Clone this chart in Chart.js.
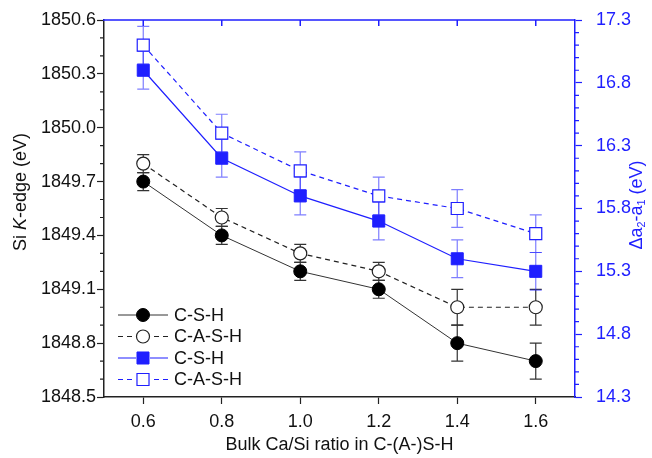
<!DOCTYPE html>
<html>
<head>
<meta charset="utf-8">
<script src="https://cdn.jsdelivr.net/npm/chart.js@4.4.1/dist/chart.umd.min.js"></script>
<style>
    html, body { margin: 0; padding: 0; background: #fff; }
    #wrap { width: 652px; height: 458px; position: relative; }
</style>
</head>
<body>
<div id="wrap"><canvas id="edgeChart"></canvas></div>
<script>
// --- DATA ---
const ratios = [0.6, 0.8, 1.0, 1.2, 1.4, 1.6];
const edgeCSH = [1849.7, 1849.4, 1849.2, 1849.1, 1848.8, 1848.7];
const edgeCSHErr = [0.05, 0.05, 0.05, 0.05, 0.1, 0.1];
const edgeCASH = [1849.8, 1849.5, 1849.3, 1849.2, 1849.0, 1849.0];
const edgeCASHErr = [0.05, 0.05, 0.05, 0.05, 0.1, 0.1];
const splitCSH = [16.9, 16.2, 15.9, 15.7, 15.4, 15.3];
const splitCSHErr = [0.15, 0.15, 0.15, 0.15, 0.15, 0.15];
const splitCASH = [17.1, 16.4, 16.1, 15.9, 15.8, 15.6];
const splitCASHErr = [0.15, 0.15, 0.15, 0.15, 0.15, 0.15];

const xTicks = [0.6, 0.8, 1.0, 1.2, 1.4, 1.6];
const leftTicks = [1848.5, 1848.8, 1849.1, 1849.4, 1849.7, 1850.0, 1850.3, 1850.6];
const rightTicks = [14.3, 14.8, 15.3, 15.8, 16.3, 16.8, 17.3];

const BLUE = '#1f1fff';
const BLUE_ERR = 'rgba(40, 40, 255, 0.6)';
const FONT = "'Liberation Sans', Arial, sans-serif";
const FS = 18;

Chart.defaults.font.family = FONT;
Chart.defaults.font.size = FS;
Chart.defaults.color = '#111';

const toPoints = (ys) => ratios.map((x, i) => ({ x: x, y: ys[i] }));

// keep tick padding from pushing the plot frame around
function fixPad(s) {
    s.paddingTop = 0; s.paddingBottom = 0;
    s.paddingLeft = 0; s.paddingRight = 0;
}

// --- PLUGIN: error bars (drawn under the markers) ---
const errorBars = {
    id: 'errorBars',
    beforeDatasetsDraw(chart) {
        const ctx = chart.ctx;
        chart.data.datasets.forEach((ds, i) => {
            const meta = chart.getDatasetMeta(i);
            const yScale = chart.scales[ds.yAxisID];
            ctx.save();
            ctx.strokeStyle = ds.errColor;
            ctx.lineWidth = 1.2;
            meta.data.forEach((pt, j) => {
                const v = ds.data[j].y, e = ds.errors[j];
                const yTop = yScale.getPixelForValue(v + e);
                const yBot = yScale.getPixelForValue(v - e);
                ctx.beginPath();
                ctx.moveTo(pt.x, yTop); ctx.lineTo(pt.x, yBot);
                ctx.moveTo(pt.x - 6, yTop); ctx.lineTo(pt.x + 6, yTop);
                ctx.moveTo(pt.x - 6, yBot); ctx.lineTo(pt.x + 6, yBot);
                ctx.stroke();
            });
            ctx.restore();
        });
    }
};

// --- PLUGIN: frame extras (top border, minor ticks) ---
const frameExtras = {
    id: 'frameExtras',
    afterDraw(chart) {
        const ctx = chart.ctx;
        const area = chart.chartArea;
        const xs = chart.scales.x, yl = chart.scales.y, yr = chart.scales.y1;
        ctx.save();
        // top border with inward ticks
        ctx.strokeStyle = BLUE;
        ctx.lineWidth = 1.5;
        ctx.beginPath();
        ctx.moveTo(area.left - 1, area.top); ctx.lineTo(area.right, area.top);
        xTicks.forEach(v => {
            const px = xs.getPixelForValue(v);
            ctx.moveTo(px, area.top); ctx.lineTo(px, area.top + 6);
        });
        ctx.stroke();
        // left minor ticks
        ctx.strokeStyle = '#222';
        ctx.lineWidth = 1.2;
        ctx.beginPath();
        for (let k = 0; k <= 21; k++) {
            if (k % 3 === 0) continue;
            const py = yl.getPixelForValue(1848.5 + k * 0.1);
            ctx.moveTo(area.left - 4, py); ctx.lineTo(area.left, py);
        }
        ctx.stroke();
        // right minor ticks
        ctx.strokeStyle = BLUE;
        ctx.beginPath();
        for (let k = 0; k <= 30; k++) {
            if (k % 5 === 0) continue;
            const py = yr.getPixelForValue(14.3 + k * 0.1);
            ctx.moveTo(area.right, py); ctx.lineTo(area.right + 4, py);
        }
        ctx.stroke();
        ctx.restore();
    }
};

// --- PLUGIN: axis titles with italic / subscript parts ---
function drawRich(ctx, parts, size) {
    let total = 0;
    parts.forEach(p => {
        ctx.font = (p.italic ? 'italic ' : '') + (p.sub ? size * 0.6 : size) + 'px ' + FONT;
        p.w = ctx.measureText(p.t).width;
        total += p.w;
    });
    let x = -total / 2;
    parts.forEach(p => {
        ctx.font = (p.italic ? 'italic ' : '') + (p.sub ? size * 0.6 : size) + 'px ' + FONT;
        ctx.fillText(p.t, x, p.sub ? 5 : 0);
        x += p.w;
    });
}

const axisTitles = {
    id: 'axisTitles',
    afterDraw(chart) {
        const ctx = chart.ctx;
        const area = chart.chartArea;
        ctx.save();
        ctx.textBaseline = 'middle';
        ctx.textAlign = 'left';
        // left
        ctx.save();
        ctx.fillStyle = '#111';
        ctx.translate(21, 192);
        ctx.rotate(-Math.PI / 2);
        drawRich(ctx, [{ t: 'Si ' }, { t: 'K', italic: true }, { t: '-edge (eV)' }], FS);
        ctx.restore();
        // right
        ctx.save();
        ctx.fillStyle = BLUE;
        ctx.translate(637, 205);
        ctx.rotate(-Math.PI / 2);
        drawRich(ctx, [{ t: '\u0394a' }, { t: '2', sub: true }, { t: '-a' }, { t: '1', sub: true }, { t: ' (eV)' }], FS);
        ctx.restore();
        // bottom
        ctx.save();
        ctx.fillStyle = '#111';
        ctx.translate((area.left + area.right) / 2, 445);
        drawRich(ctx, [{ t: 'Bulk Ca/Si ratio in C-(A-)S-H' }], FS);
        ctx.restore();
        ctx.restore();
    }
};

// --- PLUGIN: legend with line + marker samples ---
const legendBox = {
    id: 'legendBox',
    afterDraw(chart) {
        const ctx = chart.ctx;
        chart.data.datasets.forEach((ds, i) => {
            const y = 315 + i * 21.5;
            ctx.save();
            ctx.strokeStyle = ds.borderColor;
            ctx.lineWidth = ds.borderWidth;
            ctx.setLineDash(ds.borderDash || []);
            ctx.beginPath();
            ctx.moveTo(118, y); ctx.lineTo(168, y);
            ctx.stroke();
            ctx.setLineDash([]);
            ctx.fillStyle = '#fff';
            ctx.fillRect(136, y - 7, 14, 14);
            ctx.fillStyle = ds.pointBackgroundColor;
            ctx.strokeStyle = ds.pointBorderColor;
            ctx.lineWidth = ds.pointBorderWidth;
            Chart.helpers.drawPoint(ctx, {
                pointStyle: ds.pointStyle,
                radius: ds.pointRadius,
                borderWidth: ds.pointBorderWidth,
                rotation: 0
            }, 143, y);
            ctx.fillStyle = '#111';
            ctx.font = FS + 'px ' + FONT;
            ctx.textBaseline = 'middle';
            ctx.fillText(ds.label, 174, y + 1);
            ctx.restore();
        });
    }
};

const ctxEdge = document.getElementById('edgeChart').getContext('2d');
new Chart(ctxEdge, {
    type: 'line',
    data: {
        datasets: [
            {
                label: 'C-S-H',
                data: toPoints(edgeCSH),
                errors: edgeCSHErr,
                errColor: '#333',
                yAxisID: 'y',
                borderColor: '#333',
                borderWidth: 1,
                pointStyle: 'circle',
                pointRadius: 6.5,
                pointBackgroundColor: '#000',
                pointBorderColor: '#000',
                pointBorderWidth: 1
            },
            {
                label: 'C-A-S-H',
                data: toPoints(edgeCASH),
                errors: edgeCASHErr,
                errColor: '#333',
                yAxisID: 'y',
                borderColor: '#222',
                borderWidth: 1.2,
                borderDash: [5, 4],
                pointStyle: 'circle',
                pointRadius: 6.5,
                pointBackgroundColor: '#fff',
                pointBorderColor: '#222',
                pointBorderWidth: 1.2
            },
            {
                label: 'C-S-H',
                data: toPoints(splitCSH),
                errors: splitCSHErr,
                errColor: BLUE_ERR,
                yAxisID: 'y1',
                borderColor: BLUE,
                borderWidth: 1.2,
                pointStyle: 'rect',
                pointRadius: 8.5,
                pointBackgroundColor: BLUE,
                pointBorderColor: BLUE,
                pointBorderWidth: 1
            },
            {
                label: 'C-A-S-H',
                data: toPoints(splitCASH),
                errors: splitCASHErr,
                errColor: BLUE_ERR,
                yAxisID: 'y1',
                borderColor: BLUE,
                borderWidth: 1.2,
                borderDash: [5, 4],
                pointStyle: 'rect',
                pointRadius: 8.5,
                pointBackgroundColor: '#fff',
                pointBorderColor: BLUE,
                pointBorderWidth: 1.2
            }
        ]
    },
    options: {
        responsive: true,
        maintainAspectRatio: false,
        animation: false,
        layout: { padding: { top: 20, left: 0, right: 0, bottom: 0 } },
        plugins: {
            legend: { display: false },
            tooltip: { enabled: false }
        },
        scales: {
            x: {
                type: 'linear',
                position: 'bottom',
                min: 0.5,
                max: 1.7,
                afterBuildTicks: (s) => { s.ticks = xTicks.map(v => ({ value: v })); },
                afterFit: (s) => { s.height = 61; fixPad(s); },
                ticks: { callback: (v) => v.toFixed(1), padding: 7, color: '#111', maxRotation: 0 },
                grid: { drawOnChartArea: false, tickLength: 7, tickColor: '#222', tickWidth: 1.2 },
                border: { color: '#222', width: 1.5 }
            },
            y: {
                type: 'linear',
                position: 'left',
                min: 1848.5,
                max: 1850.6,
                afterBuildTicks: (s) => { s.ticks = leftTicks.map(v => ({ value: v })); },
                afterFit: (s) => { s.width = 104; fixPad(s); },
                ticks: { callback: (v) => v.toFixed(1), padding: 1, color: '#111' },
                grid: { drawOnChartArea: false, tickLength: 7, tickColor: '#222', tickWidth: 1.2 },
                border: { color: '#222', width: 1.5 }
            },
            y1: {
                type: 'linear',
                position: 'right',
                min: 14.3,
                max: 17.3,
                afterBuildTicks: (s) => { s.ticks = rightTicks.map(v => ({ value: v })); },
                afterFit: (s) => { s.width = 77; fixPad(s); },
                ticks: { callback: (v) => v.toFixed(1), padding: 14, color: BLUE },
                grid: { drawOnChartArea: false, tickLength: 7, tickColor: BLUE, tickWidth: 1.2 },
                border: { color: BLUE, width: 1.5 }
            }
        }
    },
    plugins: [errorBars, frameExtras, axisTitles, legendBox]
});
</script>
</body>
</html>
